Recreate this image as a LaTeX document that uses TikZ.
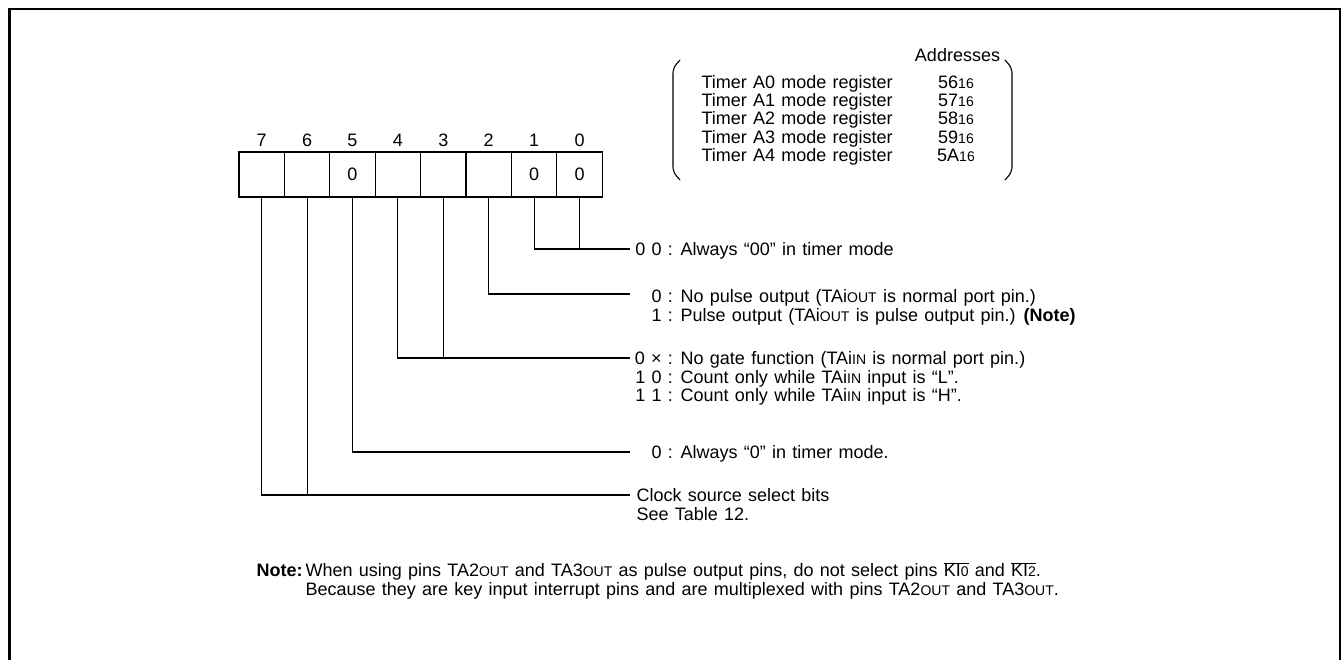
\documentclass[tikz,border=0pt]{standalone}
\usepackage{fontspec}
\setmainfont{Liberation Sans}[WordSpace=1.25]
\usetikzlibrary{positioning}
\usetikzlibrary{calc}

\newcommand{\regfont}{\fontsize{18}{18.3}\selectfont}
\newcommand{\sm}[1]{{\fontsize{14}{14}\selectfont #1}}
\newcommand{\nbar}[1]{$\overline{\mbox{#1}}$}
\newcommand{\bitval}[1]{\makebox[26pt][r]{#1}}

\tikzset{
  bitcell/.style={draw, minimum width=45.4pt, minimum height=45pt, inner sep=0pt},
  bitnum/.style={inner sep=0pt, label distance=4pt},
  desc/.style={anchor=base west, inner sep=0pt},
}

\begin{document}
\begin{tikzpicture}[x=1pt, y=-1pt, font=\regfont, line width=1.1pt]
    \clip (0,0) rectangle (1344,659);

    % Outer frame
    \draw[line width=2.6pt] (9.5,670) -- (9.5,9) -- (1340,9) -- (1340,670);

    % Register cells, bit 7 on the left
    \foreach \b/\v in {7/{},6/{},5/0,4/{},3/{},2/{},1/0,0/0} {
      \node[bitcell, label={[bitnum]above:\b}] (b\b) at ({239+(7.5-\b)*45.4},174.5) {\v};
    }

    % Addresses
    \node[anchor=base, inner sep=0pt] (addr) at (957.5,61.5) {Addresses};
    \foreach \i/\a in {0/56,1/57,2/58,3/59,4/5A} {
      \node[desc] (r\i) at (701,{88.2+\i*18.3}) {Timer A\i\ mode register};
      \node[anchor=base, inner sep=0pt] (a\i) at (956,{88.2+\i*18.3}) {\a\sm{16}};
    }
    \draw[rounded corners=5pt] (680,60) -- (673,68) -- (673,172) -- (680,180);
    \draw[rounded corners=5pt] (1005,60) -- (1012,68) -- (1012,172) -- (1005,180);

    % Line ends
    \coordinate (e10) at (630,249);
    \coordinate (e2) at (630,294);
    \coordinate (e43) at (630,358);
    \coordinate (e5) at (630,452);
    \coordinate (e76) at (630,495);

    % Bit lines
    \draw (b1.south) |- (e10);
    \draw (b0.south) -- (b0.south |- e10);
    \draw (b2.south) |- (e2);
    \draw (b4.south) |- (e43);
    \draw (b3.south) -- (b3.south |- e43);
    \draw (b5.south) |- (e5);
    \draw (b7.south) |- (e76);
    \draw (b6.south) -- (b6.south |- e76);

    % Descriptions
    \node[desc] (d10) at ([xshift=5pt,yshift=-6.5pt]e10) {\bitval{0 0} : Always “00” in timer mode};
    \node[desc] (d2) at ([xshift=5pt,yshift=-8.5pt]e2) {%
      \begin{tabular}[t]{@{}l@{}}
        \bitval{0} : No pulse output (TAi\sm{OUT} is normal port pin.)\\
        \bitval{1} : Pulse output (TAi\sm{OUT} is pulse output pin.) \textbf{(Note)}
      \end{tabular}};
    \node[desc] (d43) at ([xshift=5pt,yshift=-6.5pt]e43) {%
      \begin{tabular}[t]{@{}l@{}}
        \bitval{0 ×} : No gate function (TAi\sm{IN} is normal port pin.)\\
        \bitval{1 0} : Count only while TAi\sm{IN} input is “L”.\\
        \bitval{1 1} : Count only while TAi\sm{IN} input is “H”.
      \end{tabular}};
    \node[desc] (d5) at ([xshift=5pt,yshift=-6.5pt]e5) {\bitval{0} : Always “0” in timer mode.};
    \node[desc] (d76) at ([xshift=6pt,yshift=-6.5pt]e76) {%
      \begin{tabular}[t]{@{}l@{}}
        Clock source select bits\\
        See Table 12.
      \end{tabular}};

    % Note
    \node[desc] (note) at (256,576.5) {%
      \begin{tabular}[t]{@{}l@{\hspace{3pt}}l@{}}
        \textbf{Note:} & When using pins TA2\sm{OUT} and TA3\sm{OUT} as pulse output pins, do not select pins \nbar{KI\sm{0}} and \nbar{KI\sm{2}}.\\
        & Because they are key input interrupt pins and are multiplexed with pins TA2\sm{OUT} and TA3\sm{OUT}.
      \end{tabular}};
\end{tikzpicture}
\end{document}
